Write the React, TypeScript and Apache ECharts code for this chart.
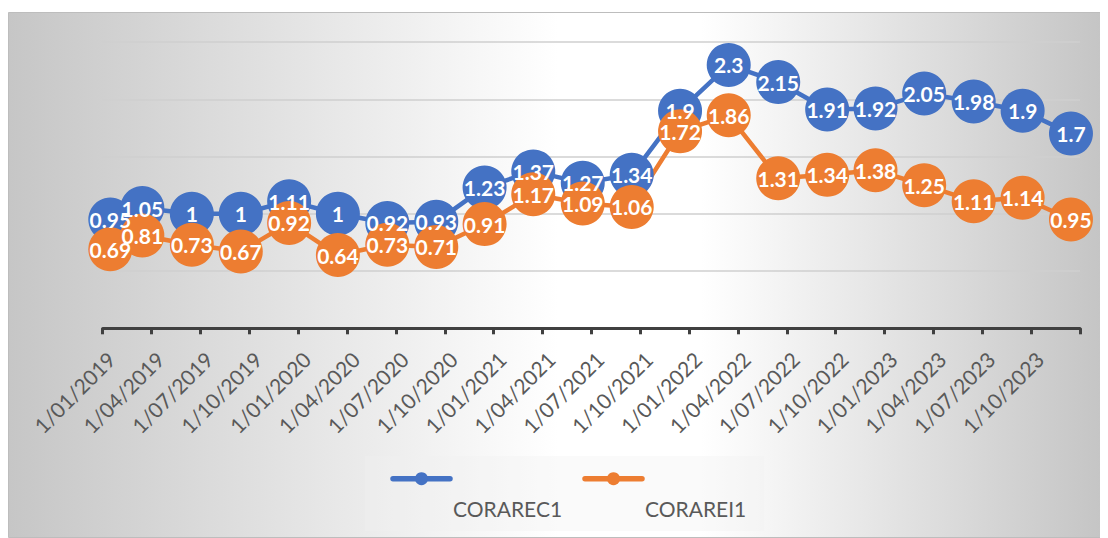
import React, { useEffect, useRef } from "react";
import * as echarts from "echarts";

const tickLabels = [
  "1/01/2019", "1/04/2019", "1/07/2019", "1/10/2019",
  "1/01/2020", "1/04/2020", "1/07/2020", "1/10/2020",
  "1/01/2021", "1/04/2021", "1/07/2021", "1/10/2021",
  "1/01/2022", "1/04/2022", "1/07/2022", "1/10/2022",
  "1/01/2023", "1/04/2023", "1/07/2023", "1/10/2023",
];

const dates = [
  "2019-01-15", "2019-03-15", "2019-06-15", "2019-09-15", "2019-12-15",
  "2020-03-15", "2020-06-15", "2020-09-15", "2020-12-15",
  "2021-03-15", "2021-06-15", "2021-09-15", "2021-12-15",
  "2022-03-15", "2022-06-15", "2022-09-15", "2022-12-15",
  "2023-03-15", "2023-06-15", "2023-09-15", "2023-12-15",
];

const corarec1 = [0.95, 1.05, 1, 1, 1.11, 1, 0.92, 0.93, 1.23, 1.37, 1.27, 1.34, 1.9, 2.3, 2.15, 1.91, 1.92, 2.05, 1.98, 1.9, 1.7];
const corarei1 = [0.69, 0.81, 0.73, 0.67, 0.92, 0.64, 0.73, 0.71, 0.91, 1.17, 1.09, 1.06, 1.72, 1.86, 1.31, 1.34, 1.38, 1.25, 1.11, 1.14, 0.95];

const seriesNames = ["CORAREC1", "CORAREI1"];
const colors = ["#4472C4", "#ED7D31"];

// date -> position in quarters since 1/01/2019 (date scale)
function quarterPos(d: string): number {
  const [y, m, day] = d.split("-").map(Number);
  const qStartMonth = Math.floor((m - 1) / 3) * 3;
  const q = (y - 2019) * 4 + qStartMonth / 3;
  const start = Date.UTC(y, qStartMonth, 1);
  const end = Date.UTC(y, qStartMonth + 3, 1);
  return q + (Date.UTC(y, m - 1, day) - start) / (end - start);
}

const FONT = "Lato, 'Open Sans', sans-serif";

export default function App() {
  const ref = useRef<HTMLDivElement>(null);
  useEffect(() => {
    if (!ref.current) return;
    const chart = echarts.init(ref.current, null, { renderer: "svg" });
    const mk = (vals: number[]) => vals.map((v, i) => [quarterPos(dates[i]), v]);
    const gridLeft = 94.7, gridRight = 28, gridTop = 34, gridBottom = 209.7;
    const labelShift = 8.5;
    chart.setOption({
      animation: false,
      graphic: [
        {
          type: "rect", z: -10, silent: true,
          shape: { x: 0.5, y: 4.5, width: 1099, height: 525 },
          style: {
            fill: new echarts.graphic.LinearGradient(0, 0, 1, 0, [
              { offset: 0, color: "#c6c6c6" },
              { offset: 0.5, color: "#ffffff" },
              { offset: 0.63, color: "#ffffff" },
              { offset: 1, color: "#c4c4c4" },
            ]),
            stroke: "#bdbdbd", lineWidth: 1,
          },
        },
        {
          type: "rect", z: -5, silent: true,
          shape: { x: 357, y: 448, width: 399, height: 75 },
          style: { fill: "rgba(240,240,240,0.35)" },
        },
        { type: "line", shape: { x1: 385, y1: 470.7, x2: 442, y2: 470.7 }, style: { stroke: colors[0], lineWidth: 5.5, lineCap: "round" } },
        { type: "circle", shape: { cx: 413.5, cy: 470.7, r: 6.5 }, style: { fill: colors[0] } },
        { type: "line", shape: { x1: 577, y1: 470.7, x2: 634, y2: 470.7 }, style: { stroke: colors[1], lineWidth: 5.5, lineCap: "round" } },
        { type: "circle", shape: { cx: 605.5, cy: 470.7, r: 6.5 }, style: { fill: colors[1] } },
        { type: "text", x: 445, y: 500, style: { text: seriesNames[0], fill: "#595959", font: `21px ${FONT}`, verticalAlign: "middle" } },
        { type: "text", x: 637, y: 500, style: { text: seriesNames[1], fill: "#595959", font: `21px ${FONT}`, verticalAlign: "middle" } },
      ],
      grid: [
        { left: gridLeft, right: gridRight, top: gridTop, bottom: gridBottom },
        { left: gridLeft + labelShift, right: gridRight - labelShift, top: gridTop, bottom: gridBottom },
      ],
      xAxis: [
        {
          type: "value", gridIndex: 0, min: 0, max: 20, interval: 1,
          axisLine: { show: true, onZero: false, lineStyle: { color: "#404040", width: 3 } },
          axisTick: { show: true, length: 6, lineStyle: { color: "#404040", width: 3 } },
          axisLabel: { show: false },
          splitLine: { show: false },
        },
        {
          type: "value", gridIndex: 1, min: 0, max: 20, interval: 1,
          axisLine: { show: false },
          axisTick: { show: false },
          splitLine: { show: false },
          axisLabel: {
            show: true, rotate: 45, margin: 27, color: "#595959", fontSize: 21, fontFamily: FONT,
            formatter: (v: number) => tickLabels[Math.round(v)] ?? "",
          },
        },
      ],
      yAxis: [
        {
          type: "value", gridIndex: 0, min: 0, max: 2.5, interval: 0.5,
          axisLine: { show: false }, axisTick: { show: false }, axisLabel: { show: false },
          splitLine: { show: true, lineStyle: { color: "#cfcfcf", width: 1.5 } },
        },
        {
          type: "value", gridIndex: 1, min: 0, max: 2.5, show: false,
          splitLine: { show: false },
        },
      ],
      series: [corarec1, corarei1].map((vals, i) => ({
        name: seriesNames[i],
        type: "line",
        xAxisIndex: 0, yAxisIndex: 0,
        data: mk(vals),
        symbol: "circle",
        symbolSize: 44,
        showAllSymbol: true,
        silent: true,
        itemStyle: { color: colors[i] },
        lineStyle: { color: colors[i], width: 4.5 },
        label: {
          show: true, position: "inside", color: "#ffffff", fontSize: 21, fontWeight: "bold", fontFamily: FONT,
          formatter: (p: any) => String(p.value[1]),
        },
        emphasis: { disabled: true },
      })),
    });
    return () => chart.dispose();
  }, []);
  return <div ref={ref} style={{ width: 1100, height: 530 }} />;
}
